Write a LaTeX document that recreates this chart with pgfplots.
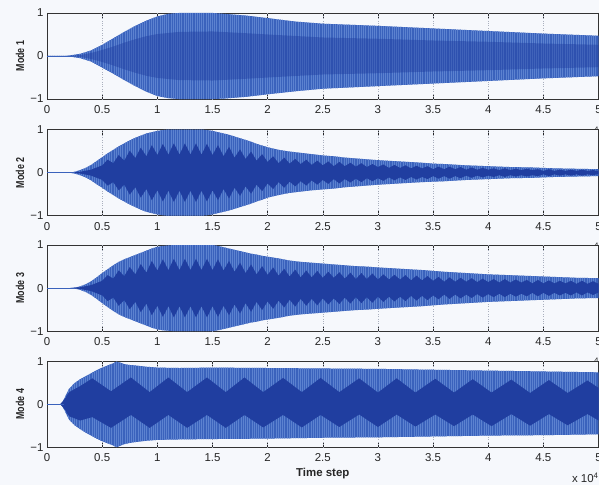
\documentclass[border=0pt]{standalone}
\usepackage{fontspec}
\setmainfont{Liberation Sans}
\usepackage{xcolor}
\usepackage{pgfplots}
\usepackage{pgfplotstable}
\pgfplotsset{compat=1.18}
\usepgfplotslibrary{fillbetween}
\usetikzlibrary{patterns.meta}

\definecolor{bg}{RGB}{246,248,252}
\definecolor{bmid}{RGB}{58,98,188}
\definecolor{bdark}{RGB}{32,62,160}
\definecolor{bstripe}{RGB}{92,130,208}
\definecolor{gridc}{RGB}{170,176,190}

% ---------- Mode 1 ----------
\pgfplotstableread{
x u l
0 0 0
0.15 0 0
0.2 0.01 -0.01
0.3 0.05 -0.05
0.4 0.13 -0.13
0.5 0.26 -0.27
0.6 0.41 -0.41
0.7 0.56 -0.56
0.8 0.70 -0.70
0.9 0.82 -0.83
1.0 0.92 -0.93
1.1 0.98 -0.98
1.2 1.0 -1.0
1.5 1.0 -1.0
1.6 0.98 -0.99
1.8 0.94 -0.95
2.0 0.88 -0.89
2.25 0.80 -0.82
2.5 0.75 -0.76
3.0 0.70 -0.70
3.5 0.64 -0.64
4.0 0.58 -0.58
4.5 0.52 -0.52
5.0 0.47 -0.47
}\moa
\pgfplotstableread{
x u l
0 0 0
0.2 0 0
0.3 0.02 -0.02
0.4 0.07 -0.07
0.5 0.14 -0.14
0.6 0.22 -0.22
0.7 0.31 -0.31
0.8 0.39 -0.39
0.9 0.46 -0.46
1.0 0.51 -0.51
1.2 0.56 -0.56
1.5 0.57 -0.57
1.8 0.53 -0.53
2.0 0.50 -0.50
2.5 0.43 -0.43
3.0 0.40 -0.40
3.5 0.36 -0.36
4.0 0.33 -0.33
4.5 0.29 -0.29
5.0 0.26 -0.26
}\mia

% ---------- Mode 2 ----------
\pgfplotstableread{
x u l
0 0 0
0.2 0 0
0.25 0.02 -0.02
0.3 0.06 -0.06
0.35 0.11 -0.11
0.4 0.18 -0.18
0.45 0.27 -0.27
0.5 0.36 -0.35
0.55 0.45 -0.44
0.6 0.53 -0.52
0.65 0.61 -0.60
0.7 0.68 -0.67
0.75 0.75 -0.74
0.8 0.81 -0.80
0.85 0.86 -0.86
0.9 0.91 -0.91
0.95 0.94 -0.94
1.0 0.97 -0.97
1.05 0.99 -0.99
1.1 1.0 -1.0
1.4 1.0 -1.0
1.45 0.99 -0.99
1.5 0.97 -0.97
1.55 0.94 -0.94
1.6 0.91 -0.91
1.65 0.88 -0.88
1.7 0.84 -0.84
1.75 0.80 -0.80
1.8 0.76 -0.76
1.85 0.72 -0.72
1.9 0.67 -0.67
1.95 0.63 -0.63
2.0 0.59 -0.58
2.1 0.53 -0.52
2.2 0.49 -0.47
2.3 0.46 -0.44
2.4 0.43 -0.41
2.5 0.40 -0.39
2.6 0.38 -0.37
2.7 0.35 -0.34
2.8 0.33 -0.32
2.9 0.31 -0.30
3.0 0.29 -0.28
3.2 0.26 -0.25
3.4 0.23 -0.22
3.5 0.21 -0.21
3.6 0.20 -0.20
3.8 0.17 -0.17
4.0 0.15 -0.15
4.2 0.13 -0.13
4.4 0.12 -0.12
4.5 0.11 -0.11
4.6 0.10 -0.10
4.8 0.09 -0.09
5.0 0.08 -0.08
}\mob
\pgfplotstableread{
x u l
0 0 0
0.2 0 0
0.3 0.02 -0.02
0.4 0.07 -0.07
0.5 0.17 -0.17
0.55 0.30 -0.30
0.60 0.22 -0.22
0.65 0.41 -0.41
0.70 0.28 -0.28
0.75 0.51 -0.51
0.80 0.34 -0.34
0.85 0.58 -0.58
0.90 0.38 -0.38
0.95 0.64 -0.64
1.00 0.41 -0.41
1.05 0.67 -0.67
1.10 0.42 -0.42
1.15 0.68 -0.68
1.20 0.42 -0.42
1.25 0.68 -0.68
1.30 0.42 -0.42
1.35 0.68 -0.68
1.40 0.42 -0.42
1.45 0.67 -0.67
1.50 0.41 -0.41
1.55 0.64 -0.64
1.60 0.38 -0.38
1.65 0.60 -0.60
1.70 0.35 -0.35
1.75 0.54 -0.54
1.80 0.32 -0.32
1.85 0.49 -0.49
1.90 0.28 -0.28
1.95 0.43 -0.43
2.00 0.25 -0.25
2.05 0.38 -0.38
2.10 0.22 -0.22
2.15 0.35 -0.35
2.20 0.21 -0.21
2.25 0.32 -0.32
2.30 0.20 -0.20
2.35 0.30 -0.30
2.40 0.18 -0.18
2.45 0.28 -0.28
2.50 0.17 -0.17
2.55 0.26 -0.26
2.60 0.15 -0.15
2.65 0.25 -0.25
2.70 0.15 -0.15
2.75 0.23 -0.23
2.80 0.14 -0.14
2.85 0.22 -0.22
2.90 0.13 -0.13
2.95 0.20 -0.20
3.00 0.13 -0.13
3.05 0.19 -0.19
3.10 0.11 -0.11
3.15 0.18 -0.18
3.20 0.11 -0.11
3.25 0.17 -0.17
3.30 0.10 -0.10
3.35 0.16 -0.16
3.40 0.10 -0.10
3.45 0.15 -0.15
3.50 0.08 -0.08
3.55 0.14 -0.14
3.60 0.08 -0.08
3.65 0.14 -0.14
3.70 0.08 -0.08
3.75 0.13 -0.13
3.80 0.07 -0.07
3.85 0.12 -0.12
3.90 0.07 -0.07
3.95 0.11 -0.11
4.00 0.07 -0.07
4.05 0.10 -0.10
4.10 0.06 -0.06
4.15 0.10 -0.10
4.20 0.06 -0.06
4.25 0.09 -0.09
4.30 0.06 -0.06
4.35 0.09 -0.09
4.40 0.06 -0.06
4.45 0.08 -0.08
4.50 0.04 -0.04
4.55 0.08 -0.08
4.60 0.04 -0.04
4.65 0.07 -0.07
4.70 0.04 -0.04
4.75 0.07 -0.07
4.80 0.04 -0.04
4.85 0.07 -0.07
4.90 0.04 -0.04
4.95 0.06 -0.06
5.00 0.03 -0.03
}\mib

% ---------- Mode 3 ----------
\pgfplotstableread{
x u l
0 0 0
0.2 0 0
0.25 0.01 -0.01
0.3 0.04 -0.04
0.35 0.09 -0.09
0.4 0.16 -0.16
0.45 0.25 -0.25
0.5 0.35 -0.35
0.55 0.44 -0.44
0.6 0.53 -0.53
0.65 0.61 -0.61
0.7 0.67 -0.67
0.75 0.72 -0.72
0.8 0.77 -0.77
0.85 0.82 -0.82
0.9 0.87 -0.87
0.95 0.92 -0.92
1.0 0.96 -0.96
1.05 0.98 -0.98
1.1 0.99 -0.99
1.15 1.0 -1.0
1.5 1.0 -1.0
1.55 0.98 -0.98
1.6 0.95 -0.95
1.65 0.92 -0.92
1.7 0.89 -0.89
1.75 0.86 -0.86
1.8 0.83 -0.83
1.85 0.80 -0.80
1.9 0.78 -0.78
1.95 0.75 -0.75
2.0 0.73 -0.73
2.1 0.69 -0.69
2.2 0.64 -0.64
2.3 0.61 -0.61
2.4 0.59 -0.59
2.5 0.57 -0.57
2.6 0.55 -0.55
2.7 0.53 -0.53
2.8 0.51 -0.51
2.9 0.50 -0.50
3.0 0.48 -0.48
3.2 0.45 -0.45
3.4 0.42 -0.42
3.5 0.40 -0.40
3.6 0.38 -0.38
3.8 0.35 -0.35
4.0 0.32 -0.32
4.2 0.30 -0.30
4.4 0.28 -0.28
4.5 0.27 -0.27
4.6 0.26 -0.26
4.8 0.24 -0.24
5.0 0.23 -0.23
}\moc
\pgfplotstableread{
x u l
0 0 0
0.2 0 0
0.3 0.02 -0.02
0.4 0.07 -0.07
0.5 0.17 -0.17
0.55 0.30 -0.30
0.60 0.22 -0.22
0.65 0.41 -0.41
0.70 0.28 -0.28
0.75 0.49 -0.49
0.80 0.32 -0.32
0.85 0.56 -0.56
0.90 0.36 -0.36
0.95 0.63 -0.63
1.00 0.41 -0.41
1.05 0.67 -0.67
1.10 0.42 -0.42
1.15 0.68 -0.68
1.20 0.42 -0.42
1.25 0.68 -0.68
1.30 0.42 -0.42
1.35 0.68 -0.68
1.40 0.42 -0.42
1.45 0.68 -0.68
1.50 0.42 -0.42
1.55 0.67 -0.67
1.60 0.41 -0.41
1.65 0.63 -0.63
1.70 0.38 -0.38
1.75 0.59 -0.59
1.80 0.35 -0.35
1.85 0.55 -0.55
1.90 0.32 -0.32
1.95 0.51 -0.51
2.00 0.31 -0.31
2.05 0.48 -0.48
2.10 0.29 -0.29
2.15 0.45 -0.45
2.20 0.27 -0.27
2.25 0.43 -0.43
2.30 0.25 -0.25
2.35 0.41 -0.41
2.40 0.25 -0.25
2.45 0.40 -0.40
2.50 0.24 -0.24
2.55 0.38 -0.38
2.60 0.24 -0.24
2.65 0.37 -0.37
2.70 0.22 -0.22
2.75 0.36 -0.36
2.80 0.21 -0.21
2.85 0.35 -0.35
2.90 0.21 -0.21
2.95 0.34 -0.34
3.00 0.20 -0.20
3.05 0.32 -0.32
3.10 0.20 -0.20
3.15 0.31 -0.31
3.20 0.20 -0.20
3.25 0.30 -0.30
3.30 0.18 -0.18
3.35 0.29 -0.29
3.40 0.18 -0.18
3.45 0.28 -0.28
3.50 0.17 -0.17
3.55 0.26 -0.26
3.60 0.15 -0.15
3.65 0.25 -0.25
3.70 0.15 -0.15
3.75 0.24 -0.24
3.80 0.15 -0.15
3.85 0.23 -0.23
3.90 0.14 -0.14
3.95 0.22 -0.22
4.00 0.14 -0.14
4.05 0.21 -0.21
4.10 0.13 -0.13
4.15 0.21 -0.21
4.20 0.13 -0.13
4.25 0.20 -0.20
4.30 0.13 -0.13
4.35 0.19 -0.19
4.40 0.11 -0.11
4.45 0.19 -0.19
4.50 0.11 -0.11
4.55 0.18 -0.18
4.60 0.11 -0.11
4.65 0.17 -0.17
4.70 0.11 -0.11
4.75 0.17 -0.17
4.80 0.10 -0.10
4.85 0.17 -0.17
4.90 0.10 -0.10
4.95 0.16 -0.16
5.00 0.10 -0.10
}\mic

% ---------- Mode 4 ----------
\pgfplotstableread{
x u l
0 0 0
0.12 0 0
0.14 0.05 -0.05
0.16 0.15 -0.15
0.18 0.26 -0.26
0.2 0.36 -0.36
0.25 0.49 -0.49
0.3 0.58 -0.58
0.35 0.65 -0.66
0.4 0.72 -0.73
0.45 0.79 -0.80
0.5 0.85 -0.86
0.55 0.90 -0.91
0.6 0.95 -0.96
0.63 0.99 -1.0
0.66 0.97 -0.97
0.7 0.93 -0.93
0.75 0.91 -0.90
0.8 0.90 -0.88
0.9 0.87 -0.85
1.0 0.85 -0.83
1.2 0.84 -0.82
1.5 0.85 -0.81
2.0 0.84 -0.80
2.5 0.83 -0.78
3.0 0.82 -0.77
3.5 0.80 -0.75
4.0 0.78 -0.73
4.5 0.76 -0.72
5.0 0.74 -0.70
}\mod
\pgfplotstableread{
x u l
0 0 0
0.12 0 0
0.16 0.12 -0.12
0.2 0.28 -0.28
0.3 0.42 -0.38
0.41 0.60 -0.30
0.58 0.30 -0.55
0.76 0.62 -0.25
0.93 0.28 -0.55
1.10 0.62 -0.25
1.27 0.28 -0.55
1.45 0.62 -0.25
1.62 0.28 -0.55
1.79 0.62 -0.25
1.96 0.28 -0.54
2.14 0.61 -0.25
2.31 0.28 -0.54
2.48 0.61 -0.25
2.65 0.28 -0.53
2.83 0.60 -0.24
3.00 0.27 -0.53
3.17 0.60 -0.24
3.34 0.27 -0.52
3.52 0.59 -0.24
3.69 0.27 -0.51
3.86 0.58 -0.24
4.03 0.27 -0.51
4.21 0.57 -0.23
4.38 0.26 -0.50
4.55 0.56 -0.23
4.72 0.26 -0.49
4.90 0.55 -0.23
5.07 0.26 -0.48
}\mie

\pgfplotsset{modeax/.style={
  scale only axis, width=554pt, height=86.5pt,
  xmin=0, xmax=5, ymin=-1, ymax=1,
  xtick={0,0.5,1,1.5,2,2.5,3,3.5,4,4.5,5},
  xticklabels={0,0.5,1,1.5,2,2.5,3,3.5,4,4.5,5},
  ytick={-1,0,1}, yticklabels={−1,0,1},
  /pgf/number format/assume math mode=true,
  tick align=inside, major tick length=5pt,
  tick style={black!85, line width=0.5pt},
  axis line style={black!80, line width=0.6pt},
  axis background/.style={fill=bg},
  tick label style={font=\fontsize{11.5}{13}\selectfont, text=black!85},
  xticklabel style={yshift=-3pt},
  every axis y label/.style={at={(rel axis cs:0,0.5)}, xshift=-22.8pt, rotate=90, xscale=0.78, anchor=south, inner sep=0pt, font=\bfseries\fontsize{11.5}{13}\selectfont, text=black!85},
}}

% faint dotted vertical grid
\newcommand{\vgrid}{\begin{pgfonlayer}{pre main}\pgfplotsinvokeforeach{0.5,1,1.5,2,2.5,3,3.5,4,4.5}{\draw[dotted, gridc, line width=0.45pt] (axis cs:##1,-1) -- (axis cs:##1,1);}\end{pgfonlayer}}

% the tiny exponent of an upper panel's "x 10^4" that peeks above the next panel
\newcommand{\peekfour}[1]{\begin{scope}\clip (590pt,#1) rectangle (599pt,#1+8pt);
\node[anchor=base west, inner sep=0pt, font=\fontsize{8}{8}\selectfont, text=black!85] at (594pt,#1-3.2pt) {4};\end{scope}}

\begin{document}
\pagecolor{bg}
\begin{tikzpicture}

% Mode 1
\begin{axis}[modeax, at={(44.5pt,387.5pt)}, anchor=south west, ylabel={Mode 1}]
\vgrid
\addplot[name path=a1, draw=none] table[x=x,y=u]{\moa};
\addplot[name path=a2, draw=none] table[x=x,y=l]{\moa};
\addplot[fill=bmid, draw=none] fill between[of=a1 and a2];
\addplot[pattern={Lines[angle=90,distance=2.2pt,line width=0.6pt]}, pattern color=bstripe, draw=none] fill between[of=a1 and a2];
\addplot[name path=a3, draw=none] table[x=x,y=u]{\mia};
\addplot[name path=a4, draw=none] table[x=x,y=l]{\mia};
\addplot[fill=bdark, draw=none, fill opacity=0.45] fill between[of=a3 and a4];
\addplot[bmid, line width=0.8pt] coordinates {(0,0) (0.25,0)};
\end{axis}

% Mode 2
\begin{axis}[modeax, at={(44.5pt,270.3pt)}, anchor=south west, ylabel={Mode 2}]
\vgrid
\addplot[name path=b1, draw=none] table[x=x,y=u]{\mob};
\addplot[name path=b2, draw=none] table[x=x,y=l]{\mob};
\addplot[fill=bmid, draw=none] fill between[of=b1 and b2];
\addplot[pattern={Lines[angle=90,distance=2.2pt,line width=0.6pt]}, pattern color=bstripe, draw=none] fill between[of=b1 and b2];
\addplot[name path=b3, draw=none] table[x=x,y=u]{\mib};
\addplot[name path=b4, draw=none] table[x=x,y=l]{\mib};
\addplot[fill=bdark, draw=none] fill between[of=b3 and b4];
\addplot[bmid, line width=0.8pt] coordinates {(0,0) (0.25,0)};
\end{axis}

% Mode 3
\begin{axis}[modeax, at={(44.5pt,154.3pt)}, anchor=south west, ylabel={Mode 3}]
\vgrid
\addplot[name path=c1, draw=none] table[x=x,y=u]{\moc};
\addplot[name path=c2, draw=none] table[x=x,y=l]{\moc};
\addplot[fill=bmid, draw=none] fill between[of=c1 and c2];
\addplot[pattern={Lines[angle=90,distance=2.2pt,line width=0.6pt]}, pattern color=bstripe, draw=none] fill between[of=c1 and c2];
\addplot[name path=c3, draw=none] table[x=x,y=u]{\mic};
\addplot[name path=c4, draw=none] table[x=x,y=l]{\mic};
\addplot[fill=bdark, draw=none] fill between[of=c3 and c4];
\addplot[bmid, line width=0.8pt] coordinates {(0,0) (0.25,0)};
\end{axis}

% Mode 4
\begin{axis}[modeax, at={(44.5pt,37.7pt)}, anchor=south west, ylabel={Mode 4},
  xlabel={Time step},
  every axis x label/.style={at={(rel axis cs:0.5,0)}, anchor=base, yshift=-29.7pt, inner sep=0pt, font=\bfseries\fontsize{11.5}{13}\selectfont, text=black!85}]
\vgrid
\addplot[name path=d1, draw=none] table[x=x,y=u]{\mod};
\addplot[name path=d2, draw=none] table[x=x,y=l]{\mod};
\addplot[fill=bmid, draw=none] fill between[of=d1 and d2];
\addplot[pattern={Lines[angle=90,distance=2.2pt,line width=0.6pt]}, pattern color=bstripe, draw=none] fill between[of=d1 and d2];
\addplot[name path=d3, draw=none] table[x=x,y=u]{\mie};
\addplot[name path=d4, draw=none] table[x=x,y=l]{\mie};
\addplot[fill=bdark, draw=none] fill between[of=d3 and d4];
\addplot[bmid, line width=0.8pt] coordinates {(0,0) (0.15,0)};
\end{axis}

\peekfour{357pt}
\peekfour{240.8pt}
\peekfour{124.8pt}
\node[anchor=base west, inner sep=0pt, font=\fontsize{11.5}{13}\selectfont, text=black!85] at (571.7pt,2pt) {x 10\raisebox{4.5pt}{\fontsize{8}{8}\selectfont 4}};

\pgfresetboundingbox
\useasboundingbox (0pt,0pt) rectangle (599pt,487pt);
\end{tikzpicture}
\end{document}
